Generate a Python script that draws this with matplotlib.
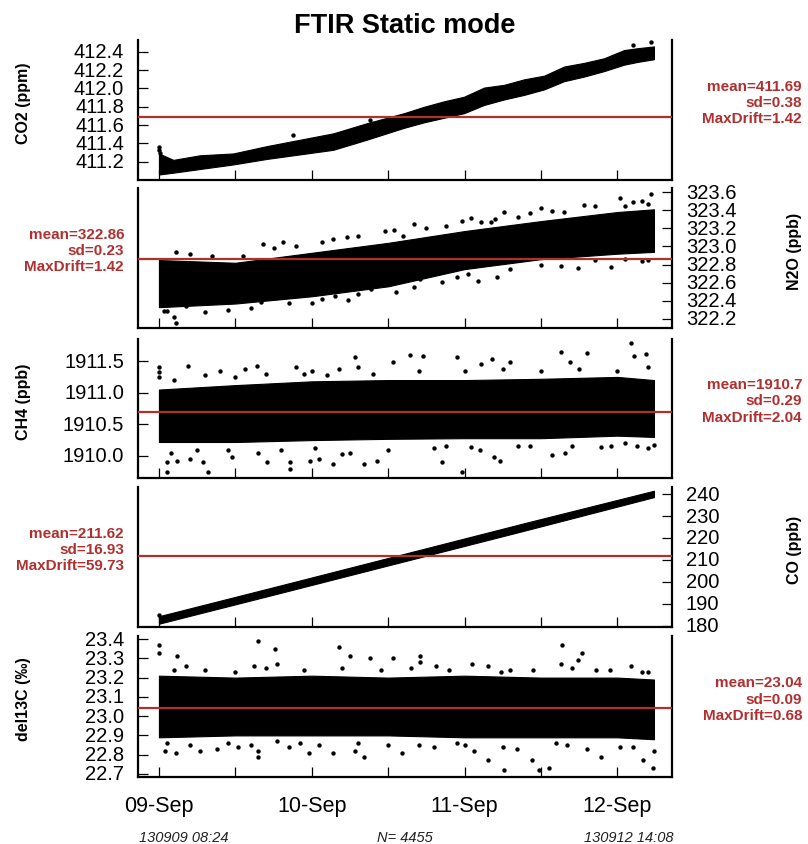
import matplotlib
matplotlib.use('Agg')
import matplotlib.pyplot as plt

plt.rcParams['font.family'] = ['Liberation Sans', 'DejaVu Sans']

# ---------------- data (time in days since 130909 08:24) ----------------
title = "FTIR Static mode"
start_label = "130909 08:24"
end_label = "130912 14:08"
n_label = "N= 4455"
day_labels = ['09-Sep', '10-Sep', '11-Sep', '12-Sep']
day_pos = [0, 1, 2, 3]
halfday_pos = [0, 0.5, 1, 1.5, 2, 2.5, 3]

# CO2 (ppm): dense band envelope + isolated points
co2_t = [0.0, 0.094, 0.268, 0.486, 0.705, 0.923, 1.141, 1.359, 1.603, 1.734, 1.865,
         1.996, 2.127, 2.258, 2.389, 2.520, 2.651, 2.781, 2.912, 3.043, 3.130, 3.239]
co2_lo = [411.06, 411.08, 411.12, 411.17, 411.23, 411.28, 411.33, 411.44, 411.57, 411.63, 411.68,
          411.73, 411.82, 411.88, 411.93, 411.99, 412.08, 412.13, 412.19, 412.26, 412.29, 412.32]
co2_hi = [411.29, 411.22, 411.27, 411.29, 411.37, 411.44, 411.51, 411.62, 411.73, 411.80, 411.86,
          411.91, 412.01, 412.04, 412.10, 412.14, 412.24, 412.28, 412.33, 412.42, 412.44, 412.46]
co2_pt = [0.0, 0.0, 0.005, 0.88, 1.38, 3.10, 3.22]
co2_pv = [411.36, 411.33, 411.30, 411.49, 411.66, 412.47, 412.51]

# N2O (ppb)
n2o_t = [0.0, 0.5, 1.0, 1.5, 2.0, 2.5, 3.0, 3.239]
n2o_lo = [322.33, 322.37, 322.45, 322.56, 322.75, 322.86, 322.92, 322.94]
n2o_hi = [322.85, 322.82, 322.93, 323.04, 323.17, 323.28, 323.38, 323.41]
n2o_pt = [0.11, 1.48, 1.54, 0.68, 0.81, 1.07, 1.14, 1.23, 0.11, 1.07, 1.24, 1.39, 0.67, 0.03, 0.05, 0.18,
          3.02, 3.10, 3.16, 3.22, 2.78, 2.50, 2.57, 2.43, 2.26, 2.04, 1.98, 2.11, 2.17, 1.67, 1.88,
          1.67, 1.85, 2.09, 2.21, 2.63, 2.74, 2.96, 3.16, 1.71, 2.02,
          0.2, 0.35, 0.55, 0.75, 0.9, 1.3, 1.6, 1.75, 2.2, 2.35, 2.65, 2.85, 3.05, 3.2,
          0.1, 0.3, 0.45, 0.6, 0.85, 1.0, 1.15, 1.3, 1.55, 1.95, 2.3, 2.5, 2.85, 3.05, 3.2]
n2o_pv = [322.15, 323.17, 323.18, 323.03, 323.05, 323.05, 323.08, 323.10, 322.94, 322.42, 322.41, 322.53,
          322.39, 322.29, 322.29, 322.34,
          323.54, 323.49, 323.50, 323.58, 323.46, 323.42, 323.39, 323.37, 323.38, 323.31, 323.28, 323.27,
          323.27, 323.25, 323.23,
          322.55, 322.61, 322.62, 322.66, 322.78, 322.76, 322.77, 322.84, 322.64, 322.70,
          322.92, 322.90, 322.90, 322.98, 323.00, 323.12, 323.12, 323.20, 323.30, 323.33, 323.38, 323.45,
          323.45, 323.47,
          322.22, 322.28, 322.30, 322.32, 322.38, 322.38, 322.45, 322.47, 322.50, 322.66, 322.75, 322.80,
          322.85, 322.86, 322.85]

# CH4 (ppb)
ch4_t = [0.0, 0.5, 1.0, 1.5, 2.0, 2.5, 3.0, 3.239]
ch4_lo = [1910.22, 1910.22, 1910.25, 1910.27, 1910.28, 1910.28, 1910.32, 1910.30]
ch4_hi = [1911.05, 1911.12, 1911.18, 1911.20, 1911.20, 1911.22, 1911.25, 1911.20]
ch4_pt = [0.0, 0.0, 0.0, 0.19, 0.40, 0.56, 0.64, 0.90, 1.00, 1.18, 1.28, 1.30, 1.53,
          0.05, 0.32, 0.86, 0.05, 0.12, 0.20, 0.29, 0.48, 0.71, 0.86, 0.99, 1.05, 1.14, 1.34, 1.43, 1.20,
          3.09, 2.63, 2.80, 2.69, 1.95, 2.18, 2.30, 1.73, 1.64, 3.11, 3.19, 2.11,
          1.85, 1.98, 2.19, 2.23, 2.57, 2.66, 2.96, 3.13, 3.239, 2.89, 2.04, 2.43, 1.88,
          0.1, 0.3, 0.5, 0.7, 0.95, 1.1, 1.4, 1.7, 2.0, 2.25, 2.5, 2.75, 3.0, 3.2,
          0.08, 0.25, 0.45, 0.65, 0.8, 1.02, 1.25, 1.5, 1.8, 2.1, 2.35, 2.7, 3.05, 3.2]
ch4_pv = [1911.33, 1911.41, 1911.25, 1911.42, 1911.34, 1911.37, 1911.42, 1911.41, 1911.34, 1911.37,
          1911.56, 1911.41, 1911.48,
          1909.75, 1909.75, 1909.79, 1909.90, 1909.92, 1909.95, 1909.90, 1909.98, 1909.90, 1909.90,
          1909.92, 1909.95, 1909.87, 1909.87, 1909.92, 1910.03,
          1911.78, 1911.64, 1911.63, 1911.48, 1911.56, 1911.53, 1911.48, 1911.58, 1911.59, 1911.58,
          1911.61, 1911.45,
          1909.90, 1909.75, 1909.98, 1909.92, 1910.01, 1910.05, 1910.16, 1910.16, 1910.17, 1910.14,
          1910.14, 1910.16, 1910.16,
          1911.20, 1911.28, 1911.25, 1911.30, 1911.30, 1911.28, 1911.30, 1911.35, 1911.35, 1911.38,
          1911.35, 1911.38, 1911.35, 1911.40,
          1910.05, 1910.10, 1910.10, 1910.05, 1910.10, 1910.12, 1910.05, 1910.10, 1910.12, 1910.10,
          1910.15, 1910.15, 1910.20, 1910.12]

# CO (ppb)
co_t = [0.0, 0.8, 1.6, 2.4, 3.239]
co_lo = [181.0, 195.1, 209.3, 223.5, 238.6]
co_hi = [184.4, 198.5, 212.7, 226.9, 241.5]
co_pt = [0.0]
co_pv = [184.8]

# del13C (permil)
d13_t = [0.0, 0.5, 1.0, 1.5, 2.0, 2.5, 3.0, 3.239]
d13_lo = [22.89, 22.90, 22.90, 22.90, 22.89, 22.89, 22.89, 22.88]
d13_hi = [23.21, 23.20, 23.21, 23.20, 23.21, 23.20, 23.20, 23.19]
d13_pt = [0.0, 0.0, 0.12, 0.65, 0.76, 1.18, 1.25, 1.38, 1.53, 0.18, 0.77, 0.62,
          0.04, 0.11, 0.27, 0.65, 0.65, 0.98, 1.34, 1.14, 1.28, 1.59, 0.52, 0.38, 0.77, 0.92,
          2.64, 2.77, 2.74, 1.71, 1.71, 2.63, 2.05, 1.81, 3.09, 2.86, 3.16, 2.30, 2.24,
          2.26, 2.49, 2.55, 3.23, 2.15, 2.44, 2.89, 3.17, 2.67, 2.06, 1.70, 3.02, 1.95, 2.34,
          0.1, 0.3, 0.5, 0.7, 0.95, 1.2, 1.45, 1.65, 1.9, 2.15, 2.45, 2.7, 2.95, 3.2,
          0.05, 0.2, 0.45, 0.6, 0.85, 1.05, 1.3, 1.5, 1.8, 2.0, 2.25, 2.6, 2.8, 3.1, 3.239]
d13_pv = [23.37, 23.33, 23.31, 23.39, 23.35, 23.36, 23.31, 23.30, 23.30, 23.26, 23.27, 23.26,
          22.82, 22.81, 22.82, 22.79, 22.82, 22.81, 22.79, 22.81, 22.82, 22.81, 22.84, 22.83, 22.87, 22.86,
          23.37, 23.33, 23.29, 23.31, 23.28, 23.27, 23.27, 23.26, 23.26, 23.24, 23.23, 23.24, 23.23,
          22.72, 22.72, 22.73, 22.73, 22.77, 22.77, 22.79, 22.77, 22.85, 22.82, 22.85, 22.84, 22.86, 22.83,
          23.24, 23.24, 23.23, 23.25, 23.24, 23.25, 23.24, 23.25, 23.24, 23.26, 23.24, 23.25, 23.24, 23.23,
          22.86, 22.85, 22.86, 22.85, 22.84, 22.85, 22.86, 22.85, 22.84, 22.85, 22.84, 22.86, 22.83,
          22.84, 22.82]

# statistics
gas_names = ['CO2 (ppm)', 'N2O (ppb)', 'CH4 (ppb)', 'CO (ppb)', 'del13C (‰)']
means = [411.69, 322.86, 1910.7, 211.62, 23.04]
mean_txt = ['411.69', '322.86', '1910.7', '211.62', '23.04']
sd_txt = ['0.38', '0.23', '0.29', '16.93', '0.09']
drift_txt = ['1.42', '1.42', '2.04', '59.73', '0.68']
yticks = [[411.2, 411.4, 411.6, 411.8, 412.0, 412.2, 412.4],
          [322.2, 322.4, 322.6, 322.8, 323.0, 323.2, 323.4, 323.6],
          [1910.0, 1910.5, 1911.0, 1911.5],
          [180, 190, 200, 210, 220, 230, 240],
          [22.7, 22.8, 22.9, 23.0, 23.1, 23.2, 23.3, 23.4]]
ytick_fmt = ['{:.1f}', '{:.1f}', '{:.1f}', '{:.0f}', '{:.1f}']

series = [(co2_t, co2_lo, co2_hi, co2_pt, co2_pv),
          (n2o_t, n2o_lo, n2o_hi, n2o_pt, n2o_pv),
          (ch4_t, ch4_lo, ch4_hi, ch4_pt, ch4_pv),
          (co_t, co_lo, co_hi, co_pt, co_pv),
          (d13_t, d13_lo, d13_hi, d13_pt, d13_pv)]

# ---------------- layout / style ----------------
W, H = 808, 845
fig = plt.figure(figsize=(W / 100, H / 100), dpi=100)
RED = '#b03030'
ax_left_px, ax_right_px = 138, 672
panels_px = [(41, 181), (189, 329), (340, 479), (488, 628), (637, 778)]
ylims = [(411.0, 412.53), (322.10, 323.645), (1909.65, 1911.85), (179.5, 243.2), (22.684, 23.416)]
sides = ['left', 'right', 'left', 'right', 'left']
xlim = (-0.137, 3.357)

for i in range(5):
    top, bot = panels_px[i]
    ax = fig.add_axes([ax_left_px / W, 1 - bot / H, (ax_right_px - ax_left_px) / W, (bot - top) / H])
    t, lo, hi, pt, pv = series[i]
    ax.fill_between(t, lo, hi, color='black', edgecolor='black', linewidth=0.8)
    ax.scatter(pt, pv, s=10, c='black', marker='o', linewidths=0, zorder=3)
    ax.axhline(means[i], color=RED, lw=1.6, zorder=4)
    ax.set_xlim(*xlim)
    ax.set_ylim(*ylims[i])
    ax.spines['top'].set_visible(False)
    for s in ['left', 'right', 'bottom']:
        ax.spines[s].set_linewidth(1.6)
    ax.set_xticks(halfday_pos)
    last = (i == 4)
    if last:
        lab = []
        for p in halfday_pos:
            lab.append(day_labels[day_pos.index(p)] if p in day_pos else '')
        ax.set_xticklabels(lab)
    ax.tick_params(axis='x', direction='in', length=7.5, width=0.9, labelbottom=last,
                   labelsize=15.5, pad=13)
    ax.set_yticks(yticks[i])
    ax.set_yticklabels([ytick_fmt[i].format(v) for v in yticks[i]])
    if sides[i] == 'left':
        ax.yaxis.tick_left()
    else:
        ax.yaxis.tick_right()
    ax.tick_params(axis='y', direction='in', length=7.5, width=0.9, labelsize=14.5, pad=10)
    for tl in ax.get_yticklabels():
        tl.set_verticalalignment('center')

    ycen = 1 - ((top + bot) / 2 - 8) / H
    stat = f"mean={mean_txt[i]}\nsd={sd_txt[i]}\nMaxDrift={drift_txt[i]}"
    if sides[i] == 'left':
        fig.text(24 / W, ycen, gas_names[i], rotation=90, ha='center', va='center',
                 fontsize=11.5, fontweight='bold')
        fig.text(802 / W, ycen, stat, ha='right', va='center', multialignment='right',
                 color=RED, fontsize=11, fontweight='bold', linespacing=1.2)
    else:
        fig.text(794 / W, ycen, gas_names[i], rotation=90, ha='center', va='center',
                 fontsize=11.5, fontweight='bold')
        fig.text(124 / W, ycen, stat, ha='right', va='center', multialignment='right',
                 color=RED, fontsize=11, fontweight='bold', linespacing=1.2)

fig.text(405 / W, 1 - 26 / H, title, ha='center', va='center', fontsize=19.5, fontweight='bold')
fig.text(139 / W, 1 - 838 / H, start_label, ha='left', va='center', fontsize=10.5, style='italic',
         color='#222222')
fig.text(405 / W, 1 - 838 / H, n_label, ha='center', va='center', fontsize=10.5, style='italic',
         color='#222222')
fig.text(673 / W, 1 - 838 / H, end_label, ha='right', va='center', fontsize=10.5, style='italic',
         color='#222222')

fig.savefig('out.png', dpi=100)
